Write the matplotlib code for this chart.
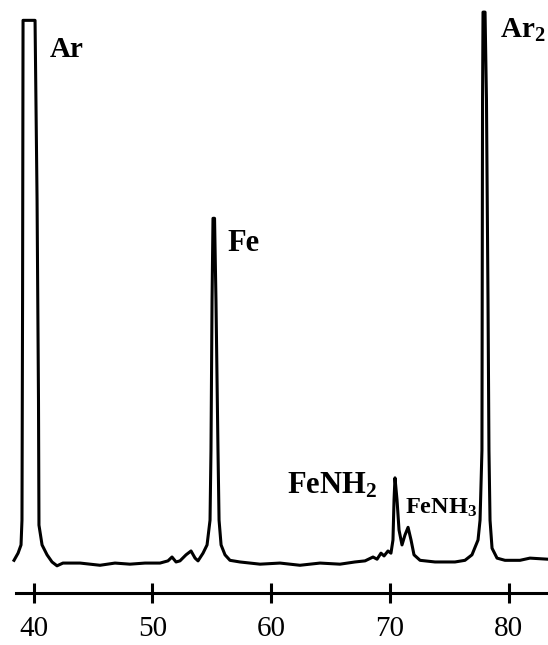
import matplotlib
matplotlib.use("Agg")
import matplotlib.pyplot as plt

plt.rcParams['font.family'] = ['Liberation Serif', 'DejaVu Serif']
plt.rcParams['mathtext.fontset'] = 'custom'
plt.rcParams['mathtext.rm'] = 'Liberation Serif'
plt.rcParams['mathtext.bf'] = 'Liberation Serif:bold'
plt.rcParams['mathtext.default'] = 'bf'

# spectrum trace (m/z, relative intensity)
mz = [38.35, 38.69, 38.94, 39.02, 39.07, 39.11, 40.12, 40.29, 40.41, 40.45,
      40.71, 41.13, 41.55, 41.97, 42.47, 43.91, 45.59, 46.85, 48.11, 49.38,
      50.64, 51.31, 51.65, 51.99, 52.32, 52.83, 53.25, 53.59, 53.84, 54.26,
      54.60, 54.85, 54.93, 55.02, 55.10, 55.23, 55.35, 55.52, 55.61, 55.78,
      56.11, 56.53, 57.37, 59.06, 60.74, 62.42, 64.11, 65.79, 67.05, 67.90,
      68.57, 68.91, 69.24, 69.50, 69.83, 70.08, 70.25, 70.34, 70.42, 70.59,
      70.76, 71.01, 71.26, 71.52, 71.77, 72.02, 72.53, 73.79, 75.47, 76.31,
      76.90, 77.24, 77.41, 77.58, 77.74, 77.79, 77.83, 78.00, 78.12, 78.25,
      78.33, 78.42, 78.59, 79.01, 79.68, 80.94, 81.78, 83.30]
intensity = [0.5, 1.8, 3.3, 7.8, 47.8, 98.7, 98.7, 66.0, 29.6, 6.9,
             3.3, 1.5, 0.2, -0.5, 0.0, 0.0, -0.4, 0.0, -0.2, 0.0,
             0.0, 0.4, 1.1, 0.2, 0.4, 1.5, 2.2, 0.9, 0.4, 1.8,
             3.3, 7.8, 20.5, 47.8, 62.7, 62.7, 47.8, 20.5, 7.8, 3.3,
             1.5, 0.5, 0.2, -0.2, 0.0, -0.4, 0.0, -0.2, 0.2, 0.4,
             1.1, 0.7, 1.8, 1.3, 2.2, 1.8, 4.2, 11.5, 15.5, 11.5,
             6.0, 3.3, 5.1, 6.5, 4.2, 1.5, 0.5, 0.2, 0.2, 0.5,
             1.5, 3.3, 4.2, 7.8, 20.5, 84.2, 100.2, 100.2, 84.2, 47.8,
             20.5, 7.8, 2.7, 0.9, 0.5, 0.5, 0.9, 0.7]

ticks = [40, 50, 60, 70, 80]

# peak labels: (text, m/z, intensity, size)
peak_labels = [
    ('Ar', 41.38, 92.0, 21),
    ('Fe', 56.28, 56.7, 22),
    ('FeNH$_2$', 61.33, 12.7, 22),
    ('FeNH$_3$', 71.26, 8.9, 17.5),
    ('Ar$_2$', 79.26, 95.5, 21),
]

fig = plt.figure(figsize=(5.48, 6.45), dpi=100)
ax = fig.add_axes([0, 0, 1, 1])
ax.plot(mz, intensity, color='black', lw=2.2, solid_joinstyle='round')

for txt, x, y, fs in peak_labels:
    ax.text(x, y, txt, fontsize=fs, fontweight='bold', ha='left', va='baseline')

ax.set_xlim(37.17, 83.30)
ax.set_ylim(-14.9, 102.4)

for s in ['top', 'left', 'right']:
    ax.spines[s].set_visible(False)
ax.spines['bottom'].set_position(('data', -5.5))
ax.spines['bottom'].set_linewidth(2.2)
ax.spines['bottom'].set_bounds(38.5, 83.3)
ax.set_yticks([])
ax.set_xticks(ticks)
ax.tick_params(axis='x', direction='inout', length=14, width=2.2,
               labelsize=21, pad=9)

fig.savefig('out.png', dpi=100)
